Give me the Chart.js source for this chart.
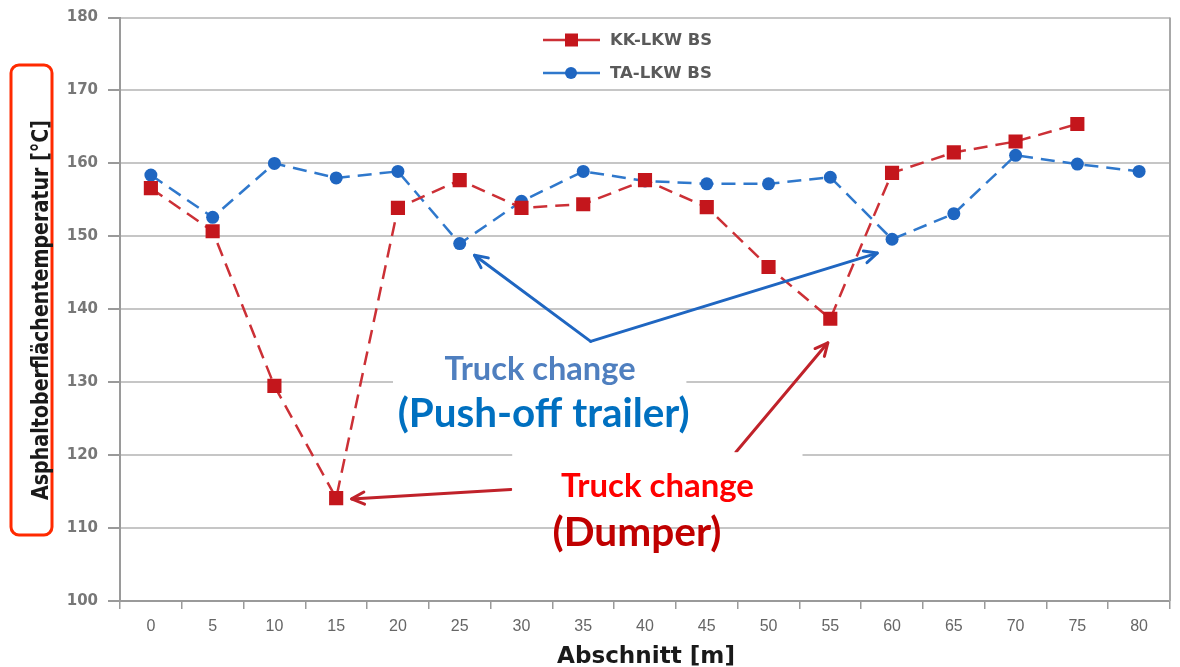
<!DOCTYPE html>
<html>
<head>
<meta charset="utf-8">
<script src="https://cdn.jsdelivr.net/npm/chart.js@4"></script>
<style>
  html, body { margin: 0; padding: 0; background: #ffffff; }
  #wrap { width: 1180px; height: 667px; position: relative; }
</style>
</head>
<body>
<div id="wrap"><canvas id="c" width="1180" height="667"></canvas></div>
<script>
// Section positions along the paved strip (m)
const sections = ['0','5','10','15','20','25','30','35','40','45','50','55','60','65','70','75','80'];
// Surface temperature, dumper truck (°C)
const kkLkw = [156.6, 150.7, 129.5, 114.1, 153.9, 157.7, 153.9, 154.4, 157.7, 154.0, 145.8, 138.7, 158.7, 161.5, 163.0, 165.4, null];
// Surface temperature, push-off trailer (°C)
const taLkw = [158.4, 152.6, 160.0, 158.0, 158.9, 149.0, 154.8, 158.9, 157.6, 157.2, 157.2, 158.1, 149.6, 153.1, 161.1, 159.9, 158.9];
const seriesNames = ['KK-LKW BS', 'TA-LKW BS'];
const yTitle = 'Asphaltoberflächentemperatur [°C]';
const xTitle = 'Abschnitt [m]';

const RED = '#c4161c';
const RED_LINE = '#cc3036';
const BLUE = '#1f66c1';
const BLUE_LINE = '#2f78cc';

// Annotation geometry in data units: [section index, temperature]
const notes = {
  blueArrows: { from: [7.12, 135.6], to: [[5.24, 147.4], [11.76, 147.7]] },
  redArrows: [ { from: [5.83, 115.3], to: [3.25, 114.0] }, { from: [9.47, 120.4], to: [10.96, 135.4] } ],
  boxes: [ { x0: 3.92, x1: 8.67, y0: 134.9, y1: 129.3 }, { x0: 5.85, x1: 10.55, y0: 120.4, y1: 112.5 } ],
  texts: [
    { t: 'Truck change', x: 6.3, y: 130.3, color: '#4f7fbf', w: 191 },
    { t: '(Push-off trailer)', x: 6.36, y: 123.8, color: '#0070c0', w: 292 },
    { t: 'Truck change', x: 8.2, y: 114.2, color: '#ff0000', w: 193 },
    { t: '(Dumper)', x: 7.87, y: 107.6, color: '#c00000', w: 169 }
  ]
};

function fitFont(ctx, text, weight, family, width) {
  ctx.font = weight + ' 100px ' + family;
  const w = ctx.measureText(text).width;
  return 100 * width / w;
}

function arrow(ctx, x0, y0, x1, y1, color) {
  const a = Math.atan2(y1 - y0, x1 - x0);
  const h = 14;
  ctx.save();
  ctx.strokeStyle = color;
  ctx.lineWidth = 3;
  ctx.lineCap = 'round';
  ctx.lineJoin = 'round';
  ctx.beginPath();
  ctx.moveTo(x0, y0);
  ctx.lineTo(x1, y1);
  ctx.stroke();
  ctx.beginPath();
  ctx.moveTo(x1 + h * Math.cos(a + Math.PI - 0.45), y1 + h * Math.sin(a + Math.PI - 0.45));
  ctx.lineTo(x1, y1);
  ctx.lineTo(x1 + h * Math.cos(a + Math.PI + 0.45), y1 + h * Math.sin(a + Math.PI + 0.45));
  ctx.stroke();
  ctx.restore();
}

const decorations = {
  id: 'decorations',
  afterDatasetsDraw(chart) {
    const ctx = chart.ctx;
    const xs = chart.scales.x, ys = chart.scales.y;
    const P = p => [xs.getPixelForValue(p[0]), ys.getPixelForValue(p[1])];
    const area = chart.chartArea;

    // right frame of the plot
    ctx.save();
    ctx.strokeStyle = '#a8a8a8';
    ctx.lineWidth = 2;
    ctx.beginPath();
    ctx.moveTo(area.right, area.top);
    ctx.lineTo(area.right, area.bottom);
    ctx.stroke();
    ctx.restore();

    // arrows
    const bf = P(notes.blueArrows.from);
    notes.blueArrows.to.forEach(t => { const p = P(t); arrow(ctx, bf[0], bf[1], p[0], p[1], '#1f66c1'); });
    notes.redArrows.forEach(r => { const a = P(r.from), b = P(r.to); arrow(ctx, a[0], a[1], b[0], b[1], '#c0222a'); });

    // white label boxes
    ctx.save();
    ctx.fillStyle = '#ffffff';
    notes.boxes.forEach(b => {
      const x0 = xs.getPixelForValue(b.x0), x1 = xs.getPixelForValue(b.x1);
      const y0 = ys.getPixelForValue(b.y0), y1 = ys.getPixelForValue(b.y1);
      ctx.fillRect(x0, y0, x1 - x0, y1 - y0);
    });
    ctx.restore();

    // label texts
    ctx.save();
    ctx.textAlign = 'center';
    ctx.textBaseline = 'alphabetic';
    notes.texts.forEach(n => {
      const size = fitFont(ctx, n.t, 'bold', 'Lato, "Open Sans", sans-serif', n.w);
      ctx.font = 'bold ' + size.toFixed(1) + 'px Lato, "Open Sans", sans-serif';
      ctx.fillStyle = n.color;
      ctx.fillText(n.t, xs.getPixelForValue(n.x), ys.getPixelForValue(n.y));
    });
    ctx.restore();

    // legend
    ctx.save();
    const lx = area.left + 423;
    const rows = [
      { name: seriesNames[0], color: RED, line: RED_LINE, y: 40, shape: 'rect' },
      { name: seriesNames[1], color: BLUE, line: BLUE_LINE, y: 73, shape: 'circle' }
    ];
    rows.forEach(r => {
      ctx.strokeStyle = r.line;
      ctx.lineWidth = 2.5;
      ctx.beginPath();
      ctx.moveTo(lx, r.y);
      ctx.lineTo(lx + 57, r.y);
      ctx.stroke();
      ctx.fillStyle = r.color;
      if (r.shape === 'rect') {
        ctx.fillRect(lx + 22, r.y - 6.5, 13, 13);
      } else {
        ctx.beginPath();
        ctx.arc(lx + 28, r.y, 6, 0, Math.PI * 2);
        ctx.fill();
      }
      const size = fitFont(ctx, r.name, '600', '"DejaVu Sans", sans-serif', 102);
      ctx.font = '600 ' + size.toFixed(1) + 'px "DejaVu Sans", sans-serif';
      ctx.fillStyle = '#5a5a5a';
      ctx.textBaseline = 'middle';
      ctx.textAlign = 'left';
      ctx.fillText(r.name, lx + 67, r.y + 1);
    });
    ctx.restore();
  },
  afterDraw(chart) {
    const ctx = chart.ctx;
    // y-axis title with its highlight frame
    ctx.save();
    ctx.strokeStyle = '#ff2a00';
    ctx.lineWidth = 3;
    ctx.beginPath();
    ctx.roundRect(11, 65, 41, 470, 8);
    ctx.stroke();
    const fam = '"DejaVu Sans Condensed", "Liberation Sans", sans-serif';
    ctx.font = 'bold 23px ' + fam;
    const w = ctx.measureText(yTitle).width;
    ctx.translate(48, 310);
    ctx.rotate(-Math.PI / 2);
    ctx.scale(380 / w, 1);
    ctx.fillStyle = '#1a1a1a';
    ctx.textAlign = 'center';
    ctx.textBaseline = 'alphabetic';
    ctx.fillText(yTitle, 0, 0);
    ctx.restore();

    // x-axis title
    ctx.save();
    ctx.font = 'bold 23px ' + fam;
    const wx = ctx.measureText(xTitle).width;
    ctx.translate(646, 663);
    ctx.scale(178 / wx, 1);
    ctx.fillStyle = '#1a1a1a';
    ctx.textAlign = 'center';
    ctx.fillText(xTitle, 0, 0);
    ctx.restore();
  }
};

new Chart(document.getElementById('c'), {
  type: 'line',
  data: {
    labels: sections,
    datasets: [
      {
        label: seriesNames[0],
        data: kkLkw,
        borderColor: RED_LINE,
        backgroundColor: RED,
        borderWidth: 2.5,
        borderDash: [14, 8],
        pointStyle: 'rect',
        pointRadius: 10,
        pointBorderWidth: 0,
        pointBackgroundColor: RED,
        tension: 0,
        spanGaps: false
      },
      {
        label: seriesNames[1],
        data: taLkw,
        borderColor: BLUE_LINE,
        backgroundColor: BLUE,
        borderWidth: 2.5,
        borderDash: [14, 8],
        pointStyle: 'circle',
        pointRadius: 6.5,
        pointBorderWidth: 0,
        pointBackgroundColor: BLUE,
        tension: 0
      }
    ]
  },
  options: {
    responsive: false,
    animation: false,
    devicePixelRatio: 1,
    layout: { padding: { top: 16, right: 5, left: 0, bottom: 0 } },
    plugins: { legend: { display: false }, tooltip: { enabled: false } },
    scales: {
      x: {
        type: 'category',
        offset: true,
        grid: { offset: true, drawOnChartArea: false, drawTicks: true, tickLength: 8, color: '#9a9a9a', lineWidth: 1.5 },
        border: { color: '#9a9a9a', width: 2 },
        ticks: { color: '#666666', font: { family: '"Liberation Sans", Arial, sans-serif', size: 16 }, padding: 8, maxRotation: 0 },
        afterFit(s) { s.height = 66; }
      },
      y: {
        min: 100,
        max: 180,
        ticks: { stepSize: 10, color: '#777777', font: { family: '"DejaVu Sans", Verdana, sans-serif', size: 15, weight: '600', lineHeight: 1 }, padding: 10 },
        grid: { color: '#c6c6c6', lineWidth: 2, tickLength: 12, tickColor: '#9a9a9a' },
        border: { color: '#9a9a9a', width: 2 },
        afterFit(s) { s.width = 120; }
      }
    }
  },
  plugins: [decorations]
});
</script>
</body>
</html>
